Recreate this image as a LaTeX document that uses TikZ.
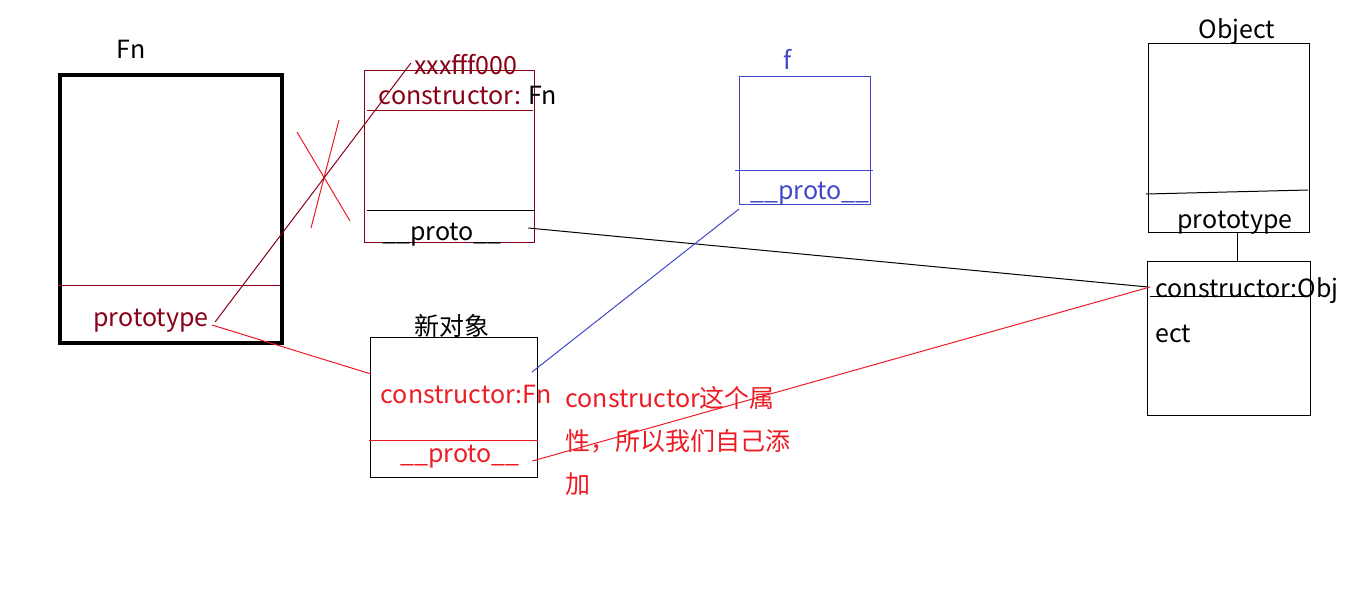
\documentclass[tikz,border=0pt]{standalone}
\usepackage{fontspec}
\setmainfont{Noto Sans CJK SC}
\usetikzlibrary{positioning}
\definecolor{darkred}{RGB}{136,0,21}
\definecolor{paintred}{RGB}{237,28,36}
\definecolor{paintblue}{RGB}{63,72,204}
\begin{document}
\begin{tikzpicture}[x=0.5pt,y=-0.5pt,line width=0.5pt,
                    box/.style={draw,rectangle,inner sep=0pt,anchor=north west},
                    word/.style={font=\fontsize{12.5}{15}\selectfont,inner sep=0pt}]
        \useasboundingbox (0,0) rectangle (1360,591);

        % Define boxes
        \node[box,line width=2pt,minimum width=111pt,minimum height=134pt] (fnbox) at (58,73) {};
        \node[box,draw=darkred,minimum width=85pt,minimum height=86pt] (xbox) at (364,70) {};
        \node[box,draw=paintblue,minimum width=65.5pt,minimum height=64pt] (fbox) at (739,76) {};
        \node[box,minimum width=83.5pt,minimum height=70pt] (newbox) at (370,337) {};
        \node[box,minimum width=80.5pt,minimum height=94.5pt] (objtop) at (1148,43) {};
        \node[box,minimum width=81.5pt,minimum height=77pt] (objbot) at (1147,261) {};

        % Define texts
        \node[word] (fnname) at (131,49) {Fn};
        \node[word,text=darkred] (fnproto) at (151,321) {prototype};
        \node[word,text=darkred] (xaddr) at (466,65) {xxxfff000};
        \node[word] (xctor) at (468,95) {\textcolor{darkred}{constructor:} Fn};
        \node[word] (xproto) at (442,235) {\_\_proto\_\_};
        \node[word,text=paintblue] (fname) at (788,59) {f};
        \node[word,text=paintblue] (fproto) at (810,194) {\_\_proto\_\_};
        \node[word] (newname) at (452,326) {新对象};
        \node[word,text=paintred] (newctor) at (466,394) {constructor:Fn};
        \node[word,text=paintred] (newproto) at (460,457) {\_\_proto\_\_};
        \node[word] (objname) at (1237,32) {Object};
        \node[word] (objproto) at (1235,223) {prototype};
        \node[word,anchor=west] (objctor) at (1155,291) {constructor:Obj};
        \node[word,anchor=west] (objrest) at (1155,334) {ect};
        \node[word,text=paintred,anchor=north west,align=left,
              font=\fontsize{12.5}{21.5}\selectfont] (note) at (565,386)
              {constructor这个属\\性，所以我们自己添\\加};

        % Dividers
        \draw[darkred] (58,285) -- (280,285);
        \draw[darkred] (367,110) -- (533,110);
        \draw (367,210) -- (535,210);
        \draw[paintblue] (735,170) -- (873,170);
        \draw[paintred] (369,440) -- (538,440);
        \draw (1146,194) -- (1308,190);
        \draw (1150,296) -- (1305,296);

        % Crossed-out mark
        \draw[paintred] (297,132) -- (350,221);
        \draw[paintred] (339,120) -- (311,228);

        % Draw links
        \coordinate (newin) at (371,374);
        \coordinate (newfn) at (532,372);
        \draw[darkred] ([xshift=3pt,yshift=-0.5pt]fnproto.east) -- ([xshift=-1.5pt,yshift=1pt]xaddr.west);
        \draw[paintred] ([xshift=1.5pt,yshift=-2pt]fnproto.east) -- (newin);
        \draw ([xshift=13pt,yshift=3.5pt]xproto.east) -- ([xshift=-3.5pt,yshift=2pt]objctor.west);
        \draw[paintblue] ([yshift=-2pt]fbox.south west) -- (newfn);
        \draw[paintred] ([xshift=6pt,yshift=-2pt]newproto.east) -- ([xshift=-2.5pt,yshift=2pt]objctor.west);
        \draw ([xshift=4pt]objtop.south) -- ([xshift=4pt]objtop.south |- objbot.north);

\end{tikzpicture}
\end{document}
